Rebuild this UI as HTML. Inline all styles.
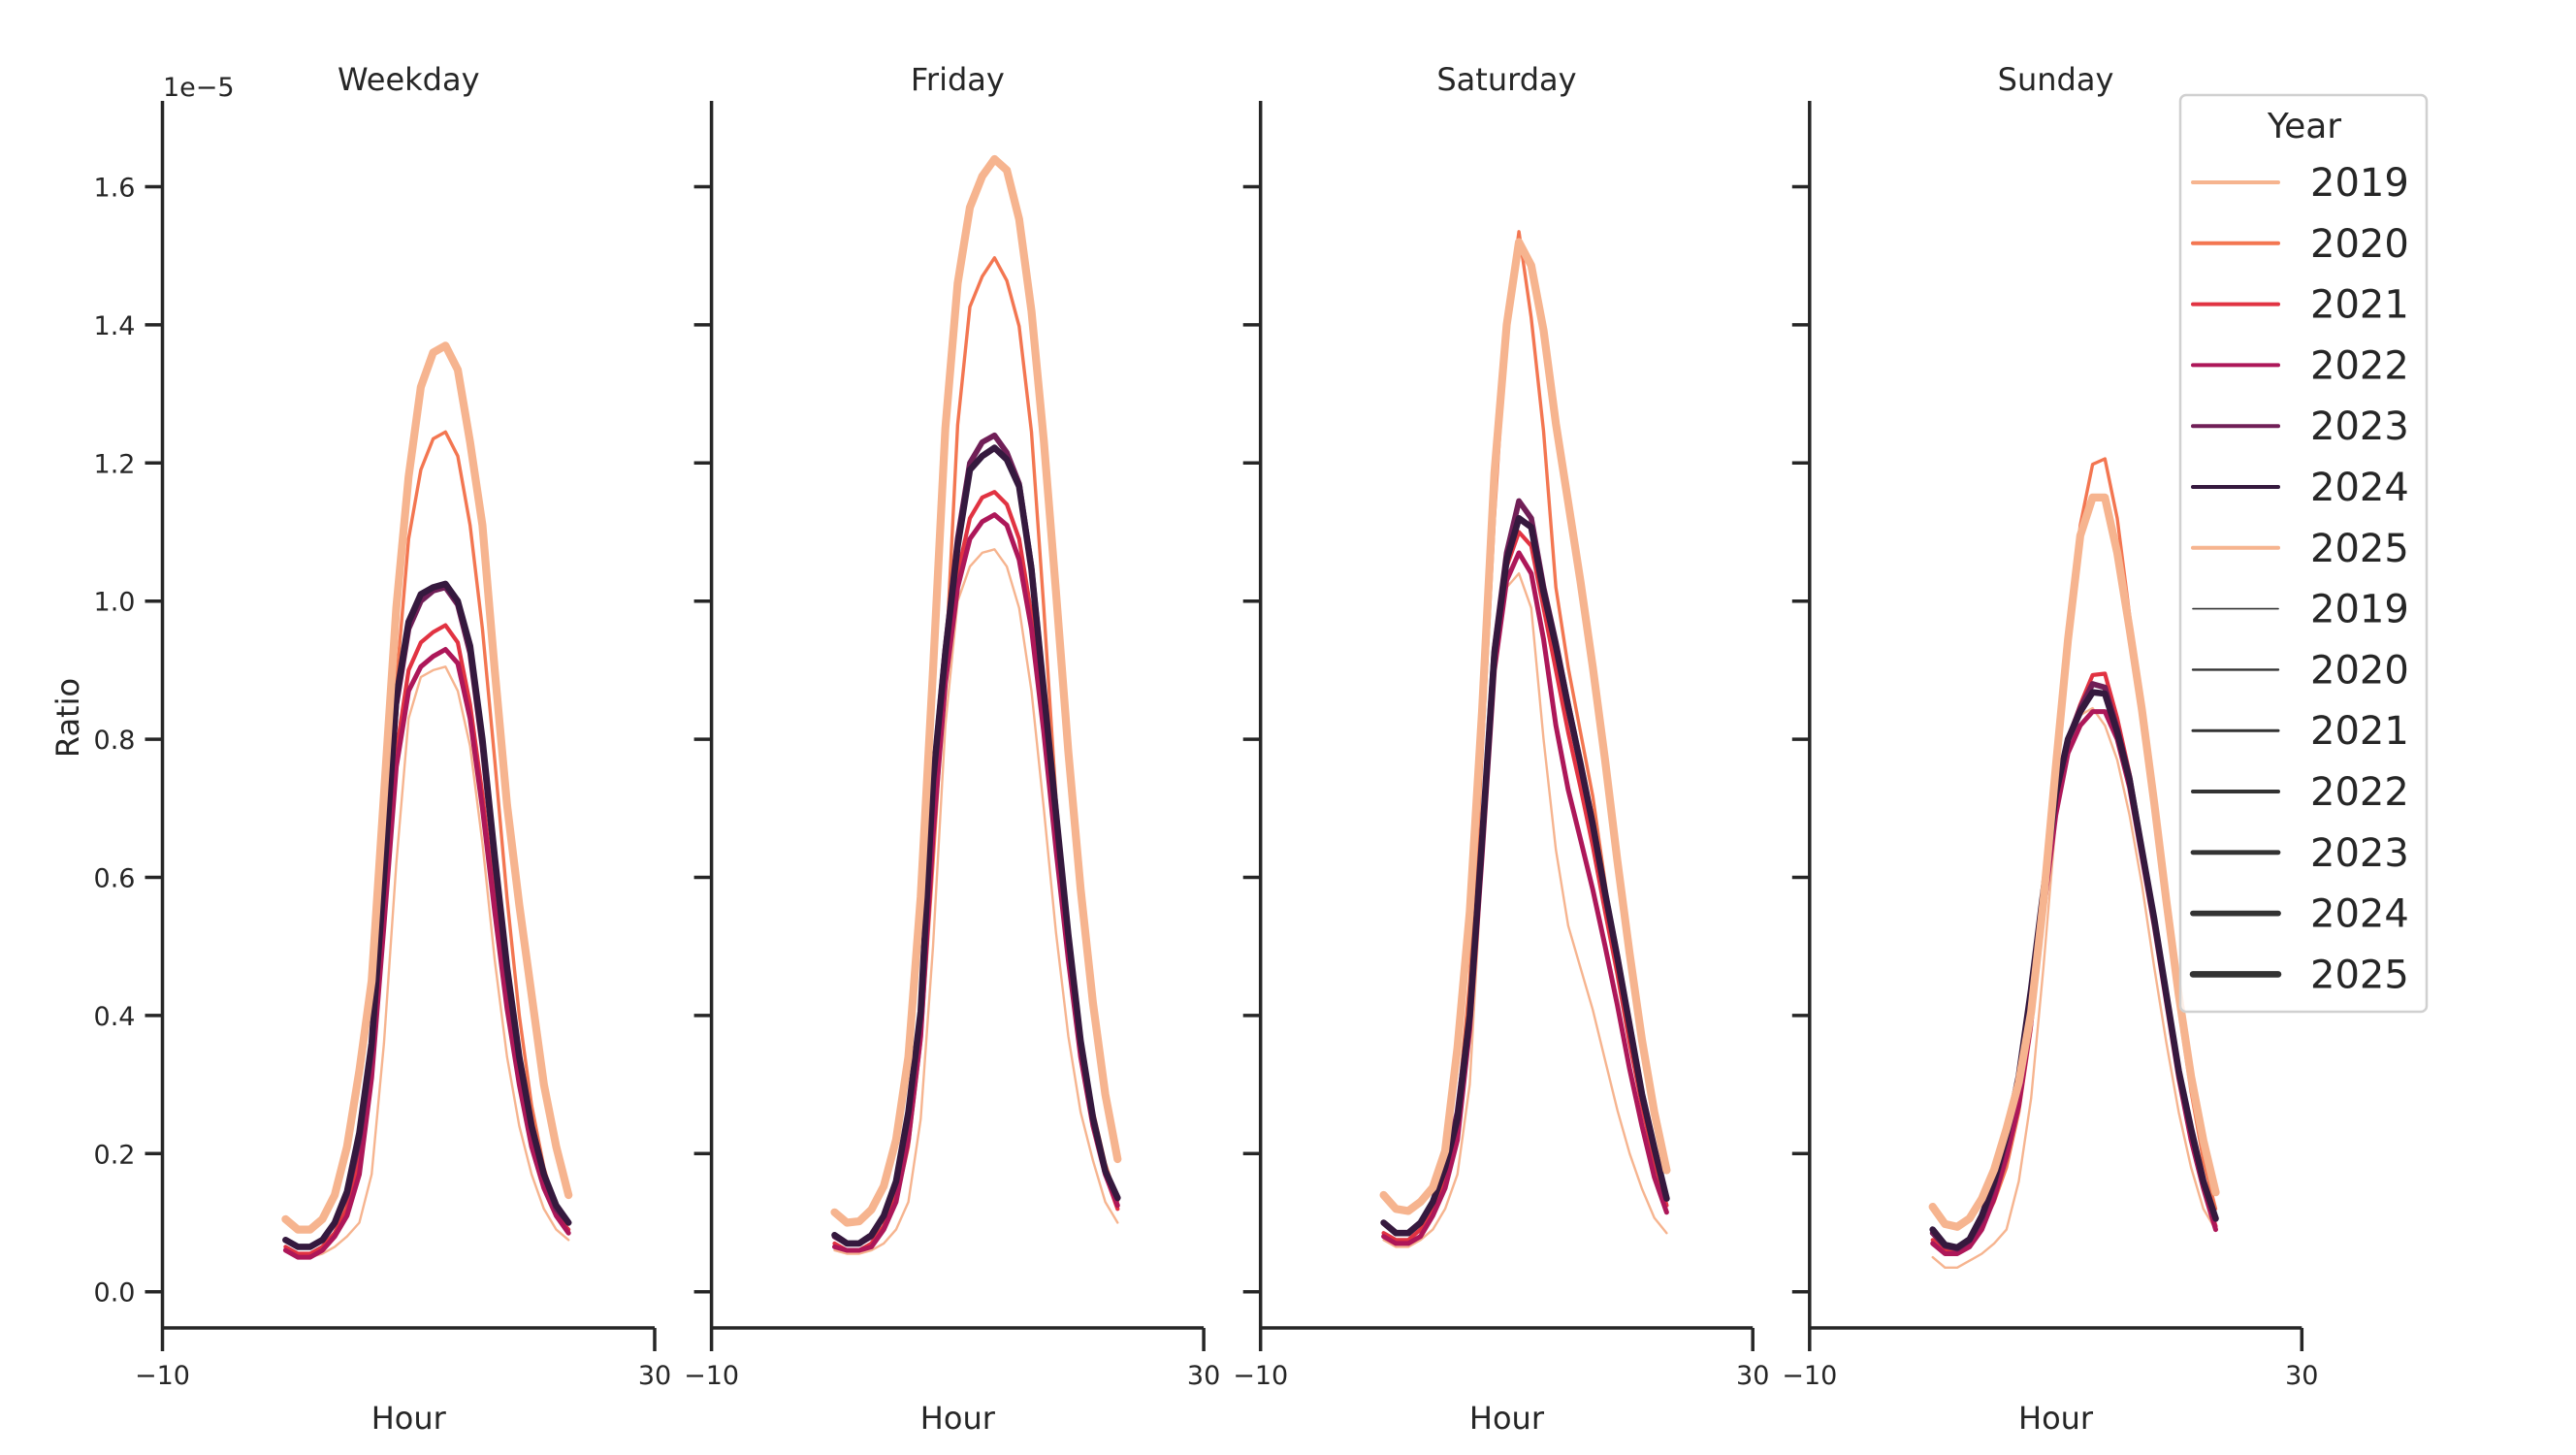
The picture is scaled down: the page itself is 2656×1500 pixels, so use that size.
<!DOCTYPE html>
<html><head><meta charset="utf-8"><style>
html,body{margin:0;padding:0;background:#fff;}
svg{display:block;font-family:"DejaVu Sans","Liberation Sans",sans-serif;}
</style></head><body>
<svg id="chart" width="2656" height="1500" viewBox="0 0 2656 1500" xmlns="http://www.w3.org/2000/svg">
<rect width="2656" height="1500" fill="#fff"/>
<g id="panels"></g>
<text transform="translate(81,740) rotate(-90)" text-anchor="middle" font-size="32" fill="#262626">Ratio</text>
<text x="168" y="99" font-size="27" fill="#262626">1e−5</text>
<g id="legend"></g>
</svg>
<script>
const panelNames = ["Weekday","Friday","Saturday","Sunday"];
const years = ["2019","2020","2021","2022","2023","2024","2025"];
const hours = [0,1,2,3,4,5,6,7,8,9,10,11,12,13,14,15,16,17,18,19,20,21,22,23];
const yTicks = [0.0,0.2,0.4,0.6,0.8,1.0,1.2,1.4,1.6];
const xTicks = [-10,30];
const weekday2019 = [.06,.05,.05,.055,.065,.08,.10,.17,.36,.62,.83,.89,.90,.905,.87,.79,.65,.48,.34,.24,.17,.12,.09,.075];
const weekday2020 = [.065,.055,.055,.065,.085,.125,.21,.36,.62,.88,1.09,1.19,1.235,1.245,1.21,1.11,.96,.77,.57,.40,.27,.18,.12,.085];
const weekday2021 = [.065,.055,.055,.065,.085,.12,.19,.32,.55,.78,.90,.94,.955,.965,.94,.85,.72,.56,.41,.31,.21,.15,.11,.09];
const weekday2022 = [.06,.05,.05,.06,.08,.11,.17,.31,.53,.76,.87,.905,.92,.93,.91,.83,.70,.55,.41,.30,.21,.15,.11,.085];
const weekday2023 = [.075,.065,.065,.075,.10,.14,.22,.35,.60,.85,.96,1.0,1.015,1.02,.995,.925,.79,.62,.46,.34,.24,.17,.12,.10];
const weekday2024 = [.075,.065,.065,.075,.10,.145,.23,.36,.60,.86,.97,1.01,1.02,1.025,1.0,.935,.80,.63,.47,.34,.24,.17,.125,.10];
const weekday2025 = [.105,.09,.09,.105,.14,.21,.32,.45,.72,.99,1.18,1.31,1.36,1.37,1.335,1.23,1.11,.90,.705,.56,.43,.30,.21,.14];
const friday2019 = [.06,.055,.055,.06,.07,.09,.13,.25,.50,.82,1.0,1.05,1.07,1.075,1.05,.99,.87,.70,.52,.37,.26,.19,.13,.10];
const friday2020 = [.07,.06,.06,.07,.09,.13,.21,.36,.62,.90,1.255,1.426,1.47,1.497,1.464,1.398,1.245,.99,.715,.517,.373,.263,.186,.131];
const friday2021 = [.07,.06,.06,.07,.095,.14,.23,.38,.68,.90,1.04,1.12,1.15,1.158,1.14,1.09,.98,.82,.65,.49,.35,.24,.17,.12];
const friday2022 = [.065,.06,.06,.065,.09,.13,.22,.37,.66,.88,1.02,1.09,1.115,1.125,1.11,1.06,.96,.81,.64,.48,.34,.24,.17,.125];
const friday2023 = [.08,.07,.07,.08,.11,.16,.26,.40,.74,.93,1.09,1.20,1.23,1.24,1.215,1.17,1.05,.87,.69,.515,.36,.25,.175,.135];
const friday2024 = [.082,.07,.07,.082,.11,.16,.26,.406,.74,.925,1.08,1.19,1.21,1.222,1.205,1.166,1.046,.87,.693,.517,.363,.252,.175,.136];
const friday2025 = [.115,.10,.102,.119,.153,.22,.34,.572,.90,1.25,1.46,1.57,1.615,1.64,1.624,1.553,1.42,1.233,1.013,.782,.583,.418,.286,.192];
const saturday2019 = [.075,.065,.065,.075,.09,.12,.17,.30,.62,.90,1.02,1.04,.99,.80,.64,.53,.469,.408,.335,.263,.20,.149,.107,.085];
const saturday2020 = [.085,.075,.075,.09,.12,.17,.26,.45,.78,1.12,1.40,1.535,1.41,1.246,1.02,.904,.81,.717,.592,.467,.363,.27,.197,.135];
const saturday2021 = [.085,.075,.075,.09,.12,.165,.24,.39,.64,.91,1.05,1.10,1.08,.99,.90,.81,.73,.645,.55,.46,.36,.27,.19,.125];
const saturday2022 = [.08,.07,.07,.08,.11,.15,.22,.38,.63,.90,1.03,1.07,1.04,.945,.82,.727,.655,.582,.50,.415,.322,.24,.166,.115];
const saturday2023 = [.10,.085,.085,.10,.13,.18,.26,.40,.655,.93,1.07,1.145,1.12,1.02,.94,.85,.765,.678,.578,.485,.386,.287,.208,.135];
const saturday2024 = [.10,.085,.085,.10,.13,.18,.25,.40,.655,.924,1.06,1.12,1.107,1.013,.935,.847,.764,.676,.577,.484,.385,.286,.208,.135];
const saturday2025 = [.14,.12,.117,.13,.151,.204,.353,.55,.841,1.185,1.40,1.52,1.486,1.392,1.257,1.143,1.028,.904,.769,.624,.489,.364,.26,.176];
const sunday2019 = [.05,.035,.035,.045,.055,.07,.09,.16,.28,.47,.68,.80,.835,.845,.82,.77,.69,.59,.47,.36,.26,.18,.12,.09];
const sunday2020 = [.085,.07,.065,.075,.095,.13,.18,.26,.38,.56,.78,.96,1.11,1.198,1.206,1.12,.98,.84,.70,.55,.41,.29,.19,.12];
const sunday2021 = [.075,.06,.058,.068,.095,.14,.20,.28,.40,.57,.71,.80,.85,.893,.895,.83,.75,.64,.53,.42,.31,.22,.15,.095];
const sunday2022 = [.07,.055,.055,.065,.09,.135,.195,.27,.39,.55,.69,.78,.82,.84,.84,.80,.73,.63,.53,.42,.31,.22,.15,.09];
const sunday2023 = [.085,.066,.062,.074,.105,.155,.22,.305,.43,.58,.72,.80,.845,.88,.875,.815,.745,.64,.54,.43,.32,.235,.16,.105];
const sunday2024 = [.09,.068,.064,.076,.11,.16,.228,.312,.438,.58,.72,.80,.84,.868,.866,.81,.741,.64,.54,.43,.32,.236,.16,.106];
const sunday2025 = [.123,.098,.094,.106,.135,.177,.236,.303,.405,.565,.759,.944,1.095,1.15,1.15,1.07,.96,.843,.708,.565,.43,.312,.219,.144];
const panelSeries = [
  [weekday2019,weekday2020,weekday2021,weekday2022,weekday2023,weekday2024,weekday2025],
  [friday2019,friday2020,friday2021,friday2022,friday2023,friday2024,friday2025],
  [saturday2019,saturday2020,saturday2021,saturday2022,saturday2023,saturday2024,saturday2025],
  [sunday2019,sunday2020,sunday2021,sunday2022,sunday2023,sunday2024,sunday2025]
];
const colors = ["#f6b48f","#f37651","#e13342","#ad1759","#701f57","#35193e","#f6b48f"];
const widths = [2.4,3.4,4.2,5.0,5.8,6.6,8.2];

const NS = "http://www.w3.org/2000/svg";
const panelX0 = [167.5,733.6,1299.7,1865.8];
const panelW = 507.5;
const xMin = -10, xMax = 30;
const yZero = 1331.7, yPerUnit = 712;
const spineTop = 104, spineBottom = 1369;
const ink = "#262626";
function xScale(p, h){ return panelX0[p] + (h - xMin) / (xMax - xMin) * panelW; }
function yScale(v){ return yZero - v * yPerUnit; }
function mk(tag, attrs, parent){
  const e = document.createElementNS(NS, tag);
  for (const k in attrs) e.setAttribute(k, attrs[k]);
  parent.appendChild(e); return e;
}
const panels = document.getElementById("panels");
for (let p = 0; p < 4; p++) {
  const g = mk("g", {}, panels);
  
  
  const x0 = panelX0[p];
  const t = mk("text", {x: x0 + panelW/2, y: 93, "text-anchor": "middle", "font-size": 32, fill: ink}, g);
  t.textContent = panelNames[p];
  
  
  const ys = mk("line", {x1: x0, x2: x0, y1: spineTop, y2: spineBottom, stroke: ink, "stroke-width": 3.5}, g);
  
  
  const xs = mk("line", {x1: x0, x2: x0 + panelW, y1: spineBottom, y2: spineBottom, stroke: ink, "stroke-width": 3.5}, g);
  
  
  for (const v of yTicks) {
    const tk = mk("line", {x1: x0 - 18, x2: x0, y1: yScale(v), y2: yScale(v), stroke: ink, "stroke-width": 3.5}, g);
    
    
    if (p === 0) {
      const tl = mk("text", {x: x0 - 28, y: yScale(v) + 10, "text-anchor": "end", "font-size": 27, fill: ink}, g);
      tl.textContent = v.toFixed(1);
      
      
    }
  }
  for (const h of xTicks) {
    const xx = xScale(p, h);
    const tk = mk("line", {x1: xx, x2: xx, y1: spineBottom, y2: spineBottom + 24, stroke: ink, "stroke-width": 3.5}, g);
    
    
    const tl = mk("text", {x: xx, y: 1427, "text-anchor": "middle", "font-size": 27, fill: ink}, g);
    tl.textContent = h < 0 ? "−" + Math.abs(h) : String(h);
    
    
  }
  const xl = mk("text", {x: x0 + panelW/2, y: 1473, "text-anchor": "middle", "font-size": 32, fill: ink}, g);
  xl.textContent = "Hour";
  
  
  for (let s = 0; s < years.length; s++) {
    const vals = panelSeries[p][s];
    const pts = hours.map((h, i) => xScale(p, h).toFixed(1) + "," + yScale(vals[i]).toFixed(1)).join(" ");
    const pl = mk("polyline", {points: pts, fill: "none", stroke: colors[s], "stroke-width": widths[s], "stroke-linejoin": "round", "stroke-linecap": "round"}, g);
    
    
  }
}
// legend
const lg = document.getElementById("legend");
const box = mk("rect", {x: 2248, y: 98, width: 254, height: 945, rx: 6, fill: "#fff", "fill-opacity": 0.8, stroke: "#d0d0d0", "stroke-width": 2.5}, lg);


const lt = mk("text", {x: 2376, y: 142, "text-anchor": "middle", "font-size": 36, fill: ink}, lg);
lt.textContent = "Year";


const sizeW = [1.6,2.4,3.0,4.0,4.8,5.8,6.6];
for (let i = 0; i < 14; i++) {
  const y = 188 + i * 62.8;
  const isHue = i < 7;
  const k = i % 7;
  const ln = mk("line", {x1: 2261, x2: 2349, y1: y, y2: y, stroke: isHue ? colors[k] : "#333333", "stroke-width": isHue ? 4 : sizeW[k], "stroke-linecap": "round"}, lg);
  
  
  const tx = mk("text", {x: 2382, y: y + 14, "font-size": 40, fill: ink}, lg);
  tx.textContent = years[k];
  
  
}
</script>
</body></html>
